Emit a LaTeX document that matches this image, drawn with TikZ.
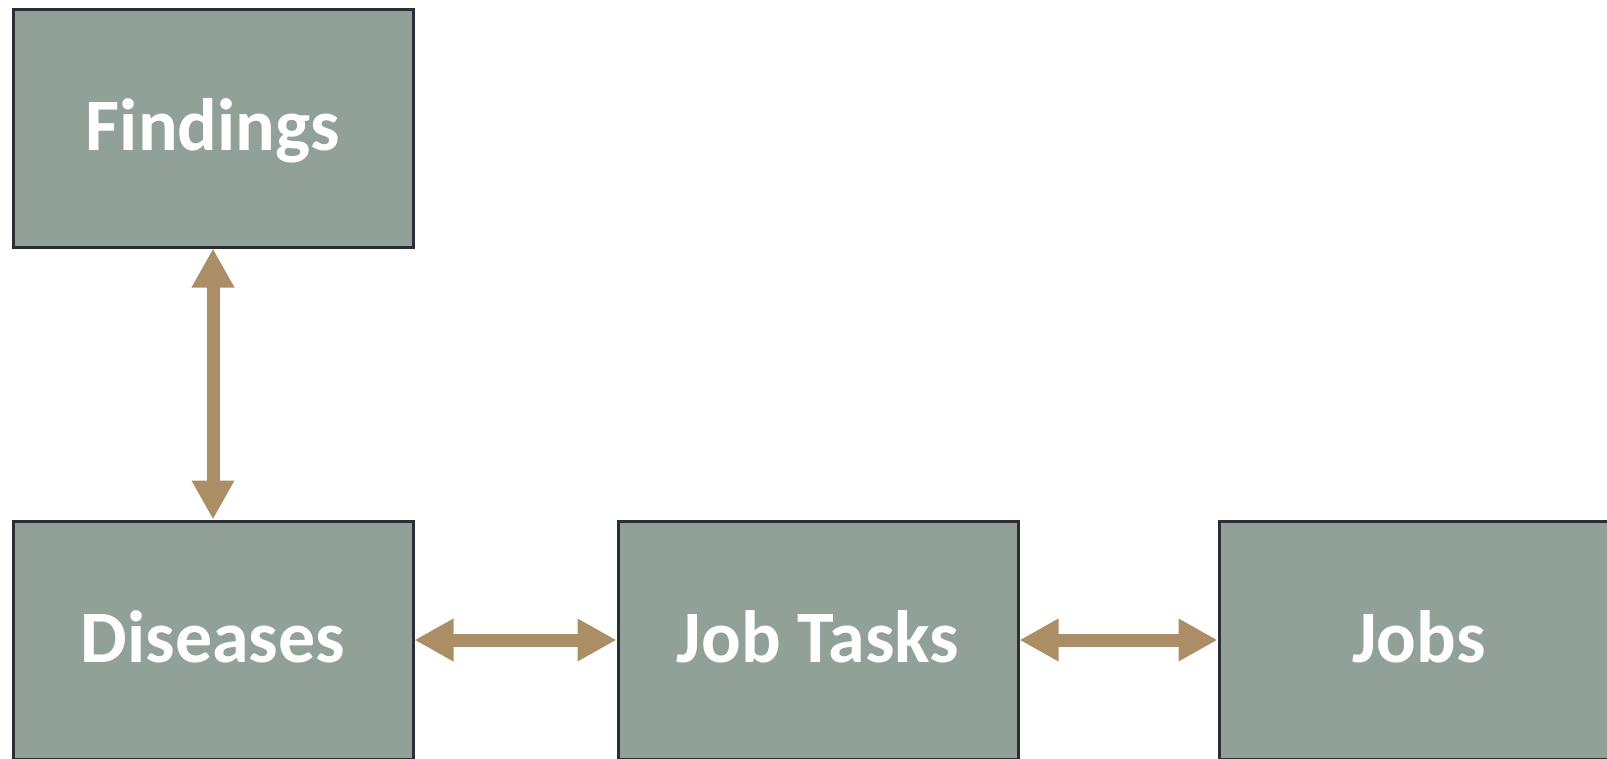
\documentclass[tikz,border=0pt]{standalone}
\usepackage{fontspec}
\setmainfont{Carlito}
\usetikzlibrary{arrows.meta}
\definecolor{boxfill}{RGB}{145,161,151}
\definecolor{boxline}{RGB}{45,45,55}
\definecolor{arrowcol}{RGB}{171,142,102}
\tikzset{
  entity/.style={draw=boxline, fill=boxfill, line width=3pt,
    minimum width=400pt, minimum height=238pt, inner sep=0pt,
    text height=44pt, text depth=0pt,
    text=white, font=\fontsize{74}{80}\selectfont\bfseries},
  biarrow/.style={draw=arrowcol, line width=13pt,
    {Triangle[width=40pt,length=39pt]}-{Triangle[width=40pt,length=39pt]}}
}
\begin{document}
\begin{tikzpicture}[x=1pt,y=-1pt]
\clip (0,0) rectangle (1607,758);
\fill[white] (0,0) rectangle (1607,758);
\node[entity] (findings) at (213,128) {Findings};
\node[entity] (diseases) at (213,640) {Diseases};
\node[entity] (tasks) at (818,640) {Job Tasks};
\node[entity] (jobs) at (1419,640) {Jobs};
\draw[biarrow] (findings.south) -- (diseases.north);
\draw[biarrow] (diseases.east) -- (tasks.west);
\draw[biarrow] (tasks.east) -- (jobs.west);
\end{tikzpicture}
\end{document}
